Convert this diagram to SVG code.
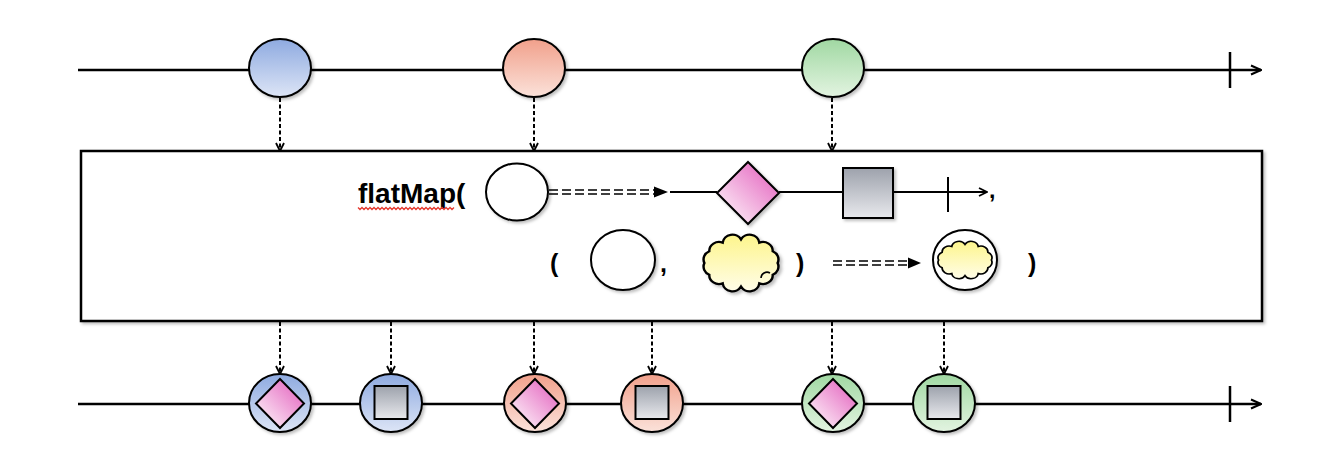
<svg xmlns="http://www.w3.org/2000/svg" width="1336" height="470" viewBox="0 0 1336 470">
<defs>
<linearGradient id="gBlue" x1="0" y1="0" x2="0" y2="1"><stop offset="0" stop-color="#8eaae0"/><stop offset="1" stop-color="#dde5f6"/></linearGradient>
<linearGradient id="gRed" x1="0" y1="0" x2="0" y2="1"><stop offset="0" stop-color="#f1a08b"/><stop offset="1" stop-color="#fbe2da"/></linearGradient>
<linearGradient id="gGreen" x1="0" y1="0" x2="0" y2="1"><stop offset="0" stop-color="#a0d8a2"/><stop offset="1" stop-color="#e3f4e1"/></linearGradient>
<linearGradient id="gPink" x1="0" y1="1" x2="1" y2="0"><stop offset="0.15" stop-color="#fbe6f4"/><stop offset="0.85" stop-color="#e670c4"/></linearGradient>
<linearGradient id="gGray" x1="0" y1="0" x2="0" y2="1"><stop offset="0" stop-color="#9da2ac"/><stop offset="1" stop-color="#e8e9ed"/></linearGradient>
<linearGradient id="gYellow" x1="0" y1="0" x2="0" y2="1"><stop offset="0" stop-color="#fdf58c"/><stop offset="1" stop-color="#fffde8"/></linearGradient>
<filter id="sh" x="-20%" y="-20%" width="150%" height="150%"><feDropShadow dx="2" dy="2" stdDeviation="1.5" flood-color="#000" flood-opacity="0.25"/></filter>
<marker id="chev" viewBox="0 0 10 10" refX="9" refY="5" markerWidth="10" markerHeight="10" markerUnits="userSpaceOnUse" orient="auto"><path d="M1,1 L9,5 L1,9" fill="none" stroke="#000" stroke-width="1.8"/></marker>
<marker id="chevL" viewBox="0 0 12 12" refX="11" refY="6" markerWidth="12" markerHeight="12" markerUnits="userSpaceOnUse" orient="auto"><path d="M1,1.5 L11,6 L1,10.5" fill="none" stroke="#000" stroke-width="2"/></marker>
<path id="cloud" d="M30,0 A8,8 0 0 1 26,10.5 A8,8 0 0 1 15,18.2 A8,8 0 0 1 0,21 A8,8 0 0 1 -15,18.2 A8,8 0 0 1 -26,10.5 A8,8 0 0 1 -30,0 A8,8 0 0 1 -26,-10.5 A8,8 0 0 1 -15,-18.2 A8,8 0 0 1 0,-21 A8,8 0 0 1 15,-18.2 A8,8 0 0 1 26,-10.5 A8,8 0 0 1 30,0 Z"/>
</defs>
<style>
.tl{stroke:#000;stroke-width:2.5;fill:none}
.ln{stroke:#000;stroke-width:2;fill:none}
.dash{stroke:#000;stroke-width:2;stroke-dasharray:4 2.5;fill:none}
.dd{stroke:#000;stroke-width:1.7;stroke-dasharray:9 4;fill:none}
.c{stroke:#000;stroke-width:2}
.shape{stroke:#000;stroke-width:2}
.cl{fill:url(#gYellow);stroke:#000;stroke-width:2}
.t{font-family:"Liberation Sans",Arial,sans-serif;font-weight:bold;fill:#000}
</style>
<rect width="1336" height="470" fill="#fff"/>

<g id="connectors">
<line class="tl" x1="78" y1="70" x2="1261" y2="70" marker-end="url(#chevL)"/>
<line class="tl" x1="1230" y1="52" x2="1230" y2="88"/>
<line class="tl" x1="78" y1="404" x2="1261" y2="404" marker-end="url(#chevL)"/>
<line class="tl" x1="1230" y1="386" x2="1230" y2="422"/>
<line class="dash" x1="280" y1="98" x2="280" y2="151" marker-end="url(#chev)"/>
<line class="dash" x1="534" y1="98" x2="534" y2="151" marker-end="url(#chev)"/>
<line class="dash" x1="832" y1="98" x2="832" y2="151" marker-end="url(#chev)"/>
<line class="dash" x1="280" y1="322" x2="280" y2="374" marker-end="url(#chev)"/>
<line class="dash" x1="391" y1="322" x2="391" y2="374" marker-end="url(#chev)"/>
<line class="dash" x1="534" y1="322" x2="534" y2="374" marker-end="url(#chev)"/>
<line class="dash" x1="652" y1="322" x2="652" y2="374" marker-end="url(#chev)"/>
<line class="dash" x1="832" y1="322" x2="832" y2="374" marker-end="url(#chev)"/>
<line class="dash" x1="944" y1="322" x2="944" y2="374" marker-end="url(#chev)"/>
</g>

<g id="box">
<rect x="81" y="151" width="1181" height="170" fill="#fff" stroke="#000" stroke-width="2.5" filter="url(#sh)"/>
</g>

<g id="source-blue"><ellipse class="c" cx="280" cy="68" rx="31" ry="29" fill="url(#gBlue)" filter="url(#sh)"/></g>
<g id="source-red"><ellipse class="c" cx="534" cy="68" rx="31" ry="29" fill="url(#gRed)" filter="url(#sh)"/></g>
<g id="source-green"><ellipse class="c" cx="833" cy="68" rx="31" ry="29" fill="url(#gGreen)" filter="url(#sh)"/></g>

<g id="label">
<text class="t" x="358" y="203" font-size="28">flatMap(</text>
<path d="M358,207.5 l2,2 l2,-2 l2,2 l2,-2 l2,2 l2,-2 l2,2 l2,-2 l2,2 l2,-2 l2,2 l2,-2 l2,2 l2,-2 l2,2 l2,-2 l2,2 l2,-2 l2,2 l2,-2 l2,2 l2,-2 l2,2 l2,-2 l2,2 l2,-2 l2,2 l2,-2 l2,2 l2,-2 l2,2 l2,-2 l2,2 l2,-2 l2,2 l2,-2 l2,2 l2,-2 l2,2 l2,-2 l2,2 l2,-2 l2,2 l2,-2 l2,2 l2,-2 l2,2 l2,-2" fill="none" stroke="#e53a30" stroke-width="1.3"/>
</g>

<g id="inner-stream">
<ellipse class="c" cx="517" cy="192" rx="31" ry="28.5" fill="#fff" filter="url(#sh)"/>
<line class="dd" x1="549" y1="190" x2="654" y2="190"/>
<line class="dd" x1="549" y1="194" x2="654" y2="194"/>
<polygon points="654,186.5 668,192 654,197.5" fill="#000"/>
<line class="ln" x1="670" y1="192" x2="717" y2="192"/>
<line class="ln" x1="779" y1="192" x2="843" y2="192"/>
<line class="ln" x1="893" y1="192" x2="987" y2="192" marker-end="url(#chev)"/>
<line class="ln" x1="948" y1="177" x2="948" y2="212"/>
<polygon class="shape" points="748,162 779,193 748,224 717,193" fill="url(#gPink)" filter="url(#sh)"/>
<rect class="shape" x="843" y="168" width="50" height="50" fill="url(#gGray)" filter="url(#sh)"/>
<text class="t" x="989" y="198" font-size="23">,</text>
</g>

<g id="result-selector">
<text class="t" x="550" y="272" font-size="25">(</text>
<ellipse class="c" cx="623" cy="260" rx="32" ry="30" fill="#fff" filter="url(#sh)"/>
<text class="t" x="660" y="272" font-size="25">,</text>
<use href="#cloud" class="cl" vector-effect="non-scaling-stroke" transform="translate(741 263) scale(1.22 1.12)" filter="url(#sh)"/>
<path d="M761,278 a6,6 0 0 1 9,-5" fill="none" stroke="#000" stroke-width="1.6"/>
<text class="t" x="796" y="272" font-size="25">)</text>
<line class="dd" x1="833" y1="261" x2="908" y2="261"/>
<line class="dd" x1="833" y1="265" x2="908" y2="265"/>
<polygon points="908,257.5 921,263 908,268.5" fill="#000"/>
<ellipse class="c" cx="965" cy="260" rx="32" ry="30" fill="#fff" filter="url(#sh)"/>
<use href="#cloud" class="cl" vector-effect="non-scaling-stroke" transform="translate(965 260) scale(0.88 0.74)"/>
<text class="t" x="1028" y="272" font-size="25">)</text>
</g>

<g id="out-blue-diamond"><ellipse class="c" cx="280" cy="403" rx="31" ry="29" fill="url(#gBlue)" filter="url(#sh)"/><polygon class="shape" points="280,379 304,403.5 280,428 256,403.5" fill="url(#gPink)"/></g>
<g id="out-blue-square"><ellipse class="c" cx="391" cy="403" rx="31" ry="29" fill="url(#gBlue)" filter="url(#sh)"/><rect class="shape" x="374.5" y="386" width="33" height="33" fill="url(#gGray)"/></g>
<g id="out-red-diamond"><ellipse class="c" cx="535" cy="403" rx="31" ry="29" fill="url(#gRed)" filter="url(#sh)"/><polygon class="shape" points="535,379 559,403.5 535,428 511,403.5" fill="url(#gPink)"/></g>
<g id="out-red-square"><ellipse class="c" cx="652" cy="403" rx="31" ry="29" fill="url(#gRed)" filter="url(#sh)"/><rect class="shape" x="635.5" y="386" width="33" height="33" fill="url(#gGray)"/></g>
<g id="out-green-diamond"><ellipse class="c" cx="833" cy="403" rx="31" ry="29" fill="url(#gGreen)" filter="url(#sh)"/><polygon class="shape" points="833,379 857,403.5 833,428 809,403.5" fill="url(#gPink)"/></g>
<g id="out-green-square"><ellipse class="c" cx="944" cy="403" rx="31" ry="29" fill="url(#gGreen)" filter="url(#sh)"/><rect class="shape" x="927.5" y="386" width="33" height="33" fill="url(#gGray)"/></g>
</svg>
